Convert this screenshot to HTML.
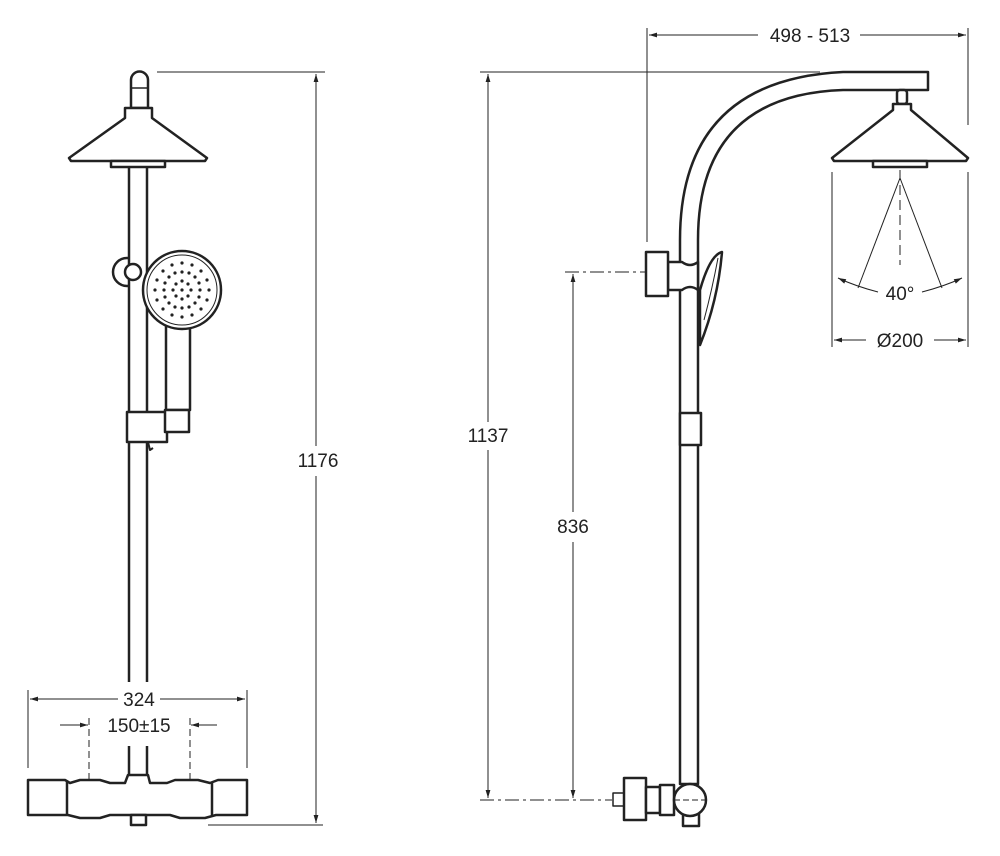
<!DOCTYPE html>
<html><head><meta charset="utf-8"><style>
html,body{margin:0;padding:0;background:#fff;}
svg{display:block;}
text{font-family:"Liberation Sans",sans-serif;font-size:19px;fill:#222;}
</style></head><body>
<svg width="1000" height="856" viewBox="0 0 1000 856" xmlns="http://www.w3.org/2000/svg">
<defs>
<marker id="a" viewBox="0 0 10 10" refX="10" refY="5" markerWidth="12" markerHeight="8" orient="auto-start-reverse" markerUnits="userSpaceOnUse"><path d="M0,2 L10,5 L0,8 z" fill="#222"/></marker>
</defs>
<g fill="none" stroke="#222" stroke-width="1">
<line x1="157" y1="72" x2="325" y2="72"/>
<line x1="208" y1="825" x2="323" y2="825"/>
<line x1="316" y1="74" x2="316" y2="446" marker-start="url(#a)"/>
<line x1="316" y1="476" x2="316" y2="823" marker-end="url(#a)"/>
<line x1="28" y1="690" x2="28" y2="768"/>
<line x1="247" y1="690" x2="247" y2="768"/>
<line x1="30" y1="699" x2="118" y2="699" marker-start="url(#a)"/>
<line x1="160" y1="699" x2="245" y2="699" marker-end="url(#a)"/>
<line x1="60" y1="725" x2="88" y2="725" marker-end="url(#a)"/>
<line x1="217" y1="725" x2="191" y2="725" marker-end="url(#a)"/>
<line x1="89" y1="718" x2="89" y2="808" stroke-dasharray="7,4"/>
<line x1="190" y1="718" x2="190" y2="808" stroke-dasharray="7,4"/>
<line x1="647" y1="28" x2="647" y2="242"/>
<line x1="968" y1="28" x2="968" y2="125"/>
<line x1="649" y1="35" x2="758" y2="35" marker-start="url(#a)"/>
<line x1="860" y1="35" x2="966" y2="35" marker-end="url(#a)"/>
<line x1="480" y1="72" x2="820" y2="72"/>
<line x1="488" y1="74" x2="488" y2="422" marker-start="url(#a)"/>
<line x1="488" y1="450" x2="488" y2="798" marker-end="url(#a)"/>
<line x1="480" y1="800" x2="612" y2="800" stroke-dasharray="14,4,3,4"/>
<line x1="565" y1="272" x2="690" y2="272" stroke-dasharray="14,4,3,4"/>
<line x1="573" y1="274" x2="573" y2="512" marker-start="url(#a)"/>
<line x1="573" y1="542" x2="573" y2="798" marker-end="url(#a)"/>
<line x1="832" y1="172" x2="832" y2="347"/>
<line x1="968" y1="172" x2="968" y2="347"/>
<line x1="834" y1="340" x2="866" y2="340" marker-start="url(#a)"/>
<line x1="934" y1="340" x2="966" y2="340" marker-end="url(#a)"/>
<line x1="900" y1="95" x2="900" y2="265" stroke-dasharray="10,5"/>
<line x1="900" y1="178" x2="858" y2="288"/>
<line x1="900" y1="178" x2="942" y2="288"/>
<path d="M838,278 Q855,286 878,292" marker-start="url(#a)"/>
<path d="M962,278 Q945,286 922,292" marker-start="url(#a)"/>
</g>
<g fill="#fff" stroke="#222" stroke-width="2.5" stroke-linejoin="round">
<circle cx="127" cy="272" r="14"/>
<rect x="129" y="250" width="18" height="50" stroke="none"/>
<line x1="129" y1="165" x2="129" y2="682"/><line x1="147" y1="165" x2="147" y2="682"/>
<line x1="129" y1="746" x2="129" y2="778"/><line x1="147" y1="746" x2="147" y2="778"/>
<circle cx="133" cy="272" r="8"/>
<path d="M131,108 L131,80 A8.5,8.5 0 0 1 148,80 L148,108 Z"/>
<line x1="131" y1="88" x2="148" y2="88" stroke-width="1.5"/>
<path d="M125,108 L152,108 L152,118 L207,158 L205,161 L71,161 L69,158 L125,118 Z"/>
<rect x="111" y="161" width="54" height="6"/>
<path d="M166,320 L190,320 L190,410 L166,410 Z"/>
<circle cx="182" cy="290" r="39"/>
<circle cx="182" cy="290" r="35" stroke-width="1"/>
<rect x="127" y="412" width="40" height="30"/>
<rect x="165" y="410" width="24" height="22"/>
<path d="M148,442 L150,450 L153,448" stroke-width="2"/>
<path d="M28,780 L65,780 L70,783 L80,780 L100,780 L110,783 L125,783 L128,775 L148,775 L150,783 L167,783 L175,780 L198,780 L210,783 L218,780 L247,780 L247,815 L216,815 L205,818 L180,818 L170,815 L110,815 L100,818 L80,818 L68,815 L28,815 Z"/>
<line x1="67" y1="782" x2="67" y2="815"/>
<line x1="212" y1="782" x2="212" y2="815"/>
<rect x="131" y="815" width="15" height="10"/>
<path d="M680,784 L680,240 Q680,80 843,72 L928,72 L928,90 L843,90 Q698,95 698,240 L698,784 Z"/>
<rect x="897" y="90" width="10" height="14" rx="3"/>
<path d="M893,104 L911,104 L911,110 L968,158 L966,161 L834,161 L832,158 L893,110 Z"/>
<rect x="873" y="161" width="54" height="6"/>
<path d="M668,262 L682,262 Q690,268 698,262 L698,290 Q690,284 682,290 L668,290 Z"/>
<rect x="646" y="252" width="22" height="44"/>
<path d="M700,290 Q710,255 722,252 Q718,300 700,345 Z"/>
<path d="M704,320 Q712,290 718,258" stroke-width="1"/>
<rect x="680" y="413" width="21" height="32"/>
<rect x="613" y="793" width="11" height="13" stroke-width="1.5"/>
<rect x="624" y="778" width="22" height="42"/>
<rect x="646" y="787" width="14" height="26"/>
<rect x="660" y="785" width="14" height="30"/>
<rect x="683" y="813" width="16" height="13"/>
<circle cx="690" cy="800" r="16"/>
</g>
<g stroke="#222" stroke-width="1"><line x1="674" y1="800" x2="706" y2="800" stroke-dasharray="6,3"/></g>
<g fill="#222">
<circle cx="182" cy="290" r="1.6"/>
<circle cx="182" cy="281" r="1.6"/><circle cx="191" cy="290" r="1.6"/><circle cx="182" cy="299" r="1.6"/><circle cx="173" cy="290" r="1.6"/><circle cx="188" cy="284" r="1.6"/><circle cx="188" cy="296" r="1.6"/><circle cx="176" cy="296" r="1.6"/><circle cx="176" cy="284" r="1.6"/>
<circle cx="182" cy="272" r="1.6"/><circle cx="200" cy="290" r="1.6"/><circle cx="182" cy="308" r="1.6"/><circle cx="164" cy="290" r="1.6"/>
<circle cx="195" cy="277" r="1.6"/><circle cx="195" cy="303" r="1.6"/><circle cx="169" cy="303" r="1.6"/><circle cx="169" cy="277" r="1.6"/>
<circle cx="189" cy="273" r="1.6"/><circle cx="175" cy="273" r="1.6"/><circle cx="199" cy="283" r="1.6"/><circle cx="199" cy="297" r="1.6"/>
<circle cx="189" cy="307" r="1.6"/><circle cx="175" cy="307" r="1.6"/><circle cx="165" cy="283" r="1.6"/><circle cx="165" cy="297" r="1.6"/>
<circle cx="182" cy="263" r="1.6"/><circle cx="209" cy="290" r="1.6"/><circle cx="182" cy="317" r="1.6"/><circle cx="155" cy="290" r="1.6"/>
<circle cx="201" cy="271" r="1.6"/><circle cx="201" cy="309" r="1.6"/><circle cx="163" cy="309" r="1.6"/><circle cx="163" cy="271" r="1.6"/>
<circle cx="192" cy="265" r="1.6"/><circle cx="172" cy="265" r="1.6"/><circle cx="207" cy="280" r="1.6"/><circle cx="207" cy="300" r="1.6"/>
<circle cx="192" cy="315" r="1.6"/><circle cx="172" cy="315" r="1.6"/><circle cx="157" cy="280" r="1.6"/><circle cx="157" cy="300" r="1.6"/>
</g>
<g text-anchor="middle">
<rect x="294" y="446" width="44" height="30" fill="#fff"/>
<text x="318" y="467">1176</text>
<text x="139" y="706">324</text>
<text x="139" y="732">150±15</text>
<text x="810" y="42">498 - 513</text>
<rect x="466" y="422" width="44" height="28" fill="#fff"/>
<text x="488" y="442">1137</text>
<rect x="554" y="512" width="38" height="30" fill="#fff"/>
<text x="573" y="533">836</text>
<text x="900" y="300">40°</text>
<text x="900" y="347">Ø200</text>
</g>
</svg>
</body></html>
